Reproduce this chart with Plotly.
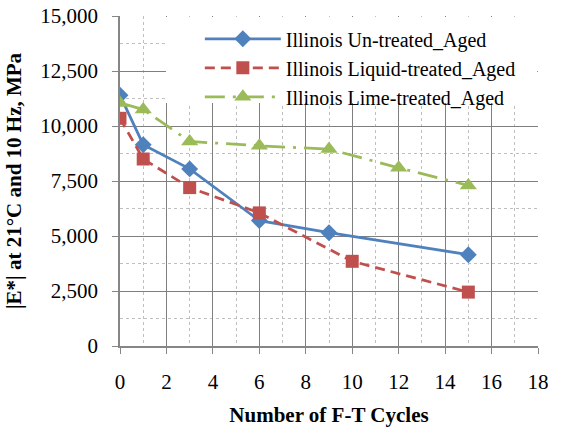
import plotly.graph_objects as go

x_untreated = [0, 1, 3, 6, 9, 15]
y_untreated = [11400, 9150, 8050, 5700, 5150, 4150]
x_liquid = [0, 1, 3, 6, 10, 15]
y_liquid = [10350, 8500, 7200, 6050, 3850, 2450]
x_lime = [0, 1, 3, 6, 9, 12, 15]
y_lime = [11050, 10750, 9300, 9100, 8950, 8100, 7300]

names = ["Illinois Un-treated_Aged", "Illinois Liquid-treated_Aged", "Illinois Lime-treated_Aged"]

fig = go.Figure()
fig.add_trace(go.Scatter(x=x_untreated, y=y_untreated, name=names[0], mode="lines+markers",
                         line=dict(color="#4F81BD", width=2.75),
                         marker=dict(symbol="diamond", size=13, color="#4F81BD")))
fig.add_trace(go.Scatter(x=x_liquid, y=y_liquid, name=names[1], mode="lines+markers",
                         line=dict(color="#C0504D", width=2.75, dash="10px,6px"),
                         marker=dict(symbol="square", size=13, color="#C0504D")))
fig.add_trace(go.Scatter(x=x_lime, y=y_lime, name=names[2], mode="lines+markers",
                         line=dict(color="#9BBB59", width=2.75, dash="20px,8px,3px,8px"),
                         marker=dict(symbol="triangle-up", size=15, color="#9BBB59")))

font = "Liberation Serif"
fig.add_shape(type="rect", xref="paper", yref="paper", x0=0.11, x1=0.998, y0=0.736, y1=0.997,
              fillcolor="white", line=dict(width=0), layer="above")
fig.update_layout(
    width=561, height=427,
    margin=dict(l=120, r=23, t=16, b=81, autoexpand=False),
    paper_bgcolor="white", plot_bgcolor="white",
    font=dict(family=font, size=21, color="black"),
    showlegend=True,
    legend=dict(x=0.191, y=0.99, xanchor="left", yanchor="top", bgcolor="rgba(255,255,255,0)",
                font=dict(family=font, size=20), tracegroupgap=0,
                itemwidth=76, borderwidth=0),
)
fig.update_xaxes(range=[0, 18], dtick=2, tick0=0, showline=True, linecolor="#868686", linewidth=1.5,
                 ticks="outside", ticklen=6, tickcolor="#868686", automargin=False,
                 showgrid=True, gridcolor="#7f7f7f", gridwidth=1,
                 minor=dict(dtick=1, showgrid=True, gridcolor="#bfbfbf", griddash="dot", gridwidth=1),
                 zeroline=False, ticklabelstandoff=10, mirror=False,
                 title=dict(text="<b>Number of F-T Cycles</b>", font=dict(family=font, size=21), standoff=16))
fig.update_yaxes(range=[0, 15000], dtick=2500, tick0=0, tickformat=",d", showline=True, linecolor="#868686",
                 linewidth=1.5, ticks="outside", ticklen=6, tickcolor="#868686", automargin=False,
                 showgrid=True, gridcolor="#7f7f7f", gridwidth=1,
                 minor=dict(dtick=1250, showgrid=True, gridcolor="#bfbfbf", griddash="dot", gridwidth=1),
                 zeroline=False, ticklabelstandoff=10,
                 title=dict(text="<b>|E*| at 21°C and 10 Hz, MPa</b>", font=dict(family=font, size=21), standoff=13))

fig.write_html("out.html")
